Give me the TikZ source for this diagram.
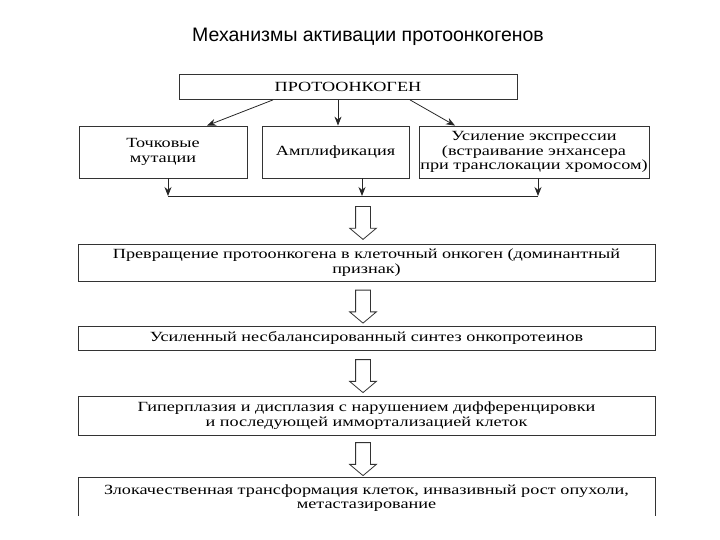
\documentclass[tikz,border=0pt]{standalone}
\usepackage{fontspec}
\setmainfont{Liberation Serif}[FakeStretch=1.3]
\newfontfamily\titlefont{Liberation Sans}
\usetikzlibrary{arrows.meta, shapes.arrows}
\begin{document}
\begin{tikzpicture}[x=1pt, y=-1pt,
    box/.style={draw=black!80, line width=0.8pt, align=center, inner sep=0pt,
        font=\fontsize{14}{14.5}\selectfont},
    hollow/.style={draw=black!80, line width=0.8pt, single arrow, rotate=-90,
        minimum height=33pt, inner xsep=0pt, inner ysep=7pt,
        single arrow head extend=6pt, single arrow tip angle=100},
    tip/.style={-{Stealth[length=9pt, width=7pt]}, line width=0.8pt, black!85}]
    \useasboundingbox (0,0) rectangle (720,540);
    \node[font=\titlefont\fontsize{19.5}{22}\selectfont] (title) at (368,37) {Механизмы активации протоонкогенов};
    \node[box, minimum width=338pt, minimum height=25pt] (proto) at (348,87) {ПРОТООНКОГЕН};
    \node[box, minimum width=168pt, minimum height=52pt] (point) at (163,152) {Точковые\\мутации};
    \node[box, minimum width=147pt, minimum height=52pt] (ampl) at (335.5,152) {Амплификация};
    \node[box, minimum width=230pt, minimum height=52pt] (expr) at (534,152) {Усиление экспрессии\\(встраивание энхансера\\при транслокации хромосом)};
    \draw[tip] ([xshift=-75pt]proto.south) -- ([xshift=44pt]point.north);
    \draw[tip] ([xshift=-10pt]proto.south) -- ([xshift=2.5pt]ampl.north);
    \draw[tip] ([xshift=62pt]proto.south) -- ([xshift=-79pt]expr.north);
    \coordinate (jl) at (168,196);
    \coordinate (jr) at (538,196);
    \draw[line width=0.8pt, black!85] (jl) -- (jr);
    \foreach \n/\dx in {point/5, ampl/26.5, expr/4}
    \draw[tip] ([xshift=\dx pt]\n.south) -- ([xshift=\dx pt]\n.south |- jl);
    \node[box, minimum width=577pt, minimum height=37pt] (conv) at (366.5,262.5) {Превращение протоонкогена в клеточный онкоген (доминантный\\признак)};
    \node[box, minimum width=577pt, minimum height=24pt] (synth) at (366.5,338) {Усиленный несбалансированный синтез онкопротеинов};
    \node[box, minimum width=577pt, minimum height=39pt] (hyper) at (366.5,415.5) {Гиперплазия и дисплазия с нарушением дифференцировки\\и последующей иммортализацией клеток};
    \begin{scope}
    \clip (0,0) rectangle (720,515);
    \node[box, minimum width=577pt, minimum height=42pt] (malig) at (366.5,498) {Злокачественная трансформация клеток, инвазивный рост опухоли,\\метастазирование};
    \end{scope}
    \path ([xshift=-3.5pt]conv.north |- jl) -- ([xshift=-3.5pt]conv.north) node[midway, hollow] {};
    \foreach \a/\b in {conv/synth, synth/hyper, hyper/malig}
    \path ([xshift=-3.5pt]\a.south) -- ([xshift=-3.5pt]\b.north) node[midway, hollow] {};
\end{tikzpicture}
\end{document}
